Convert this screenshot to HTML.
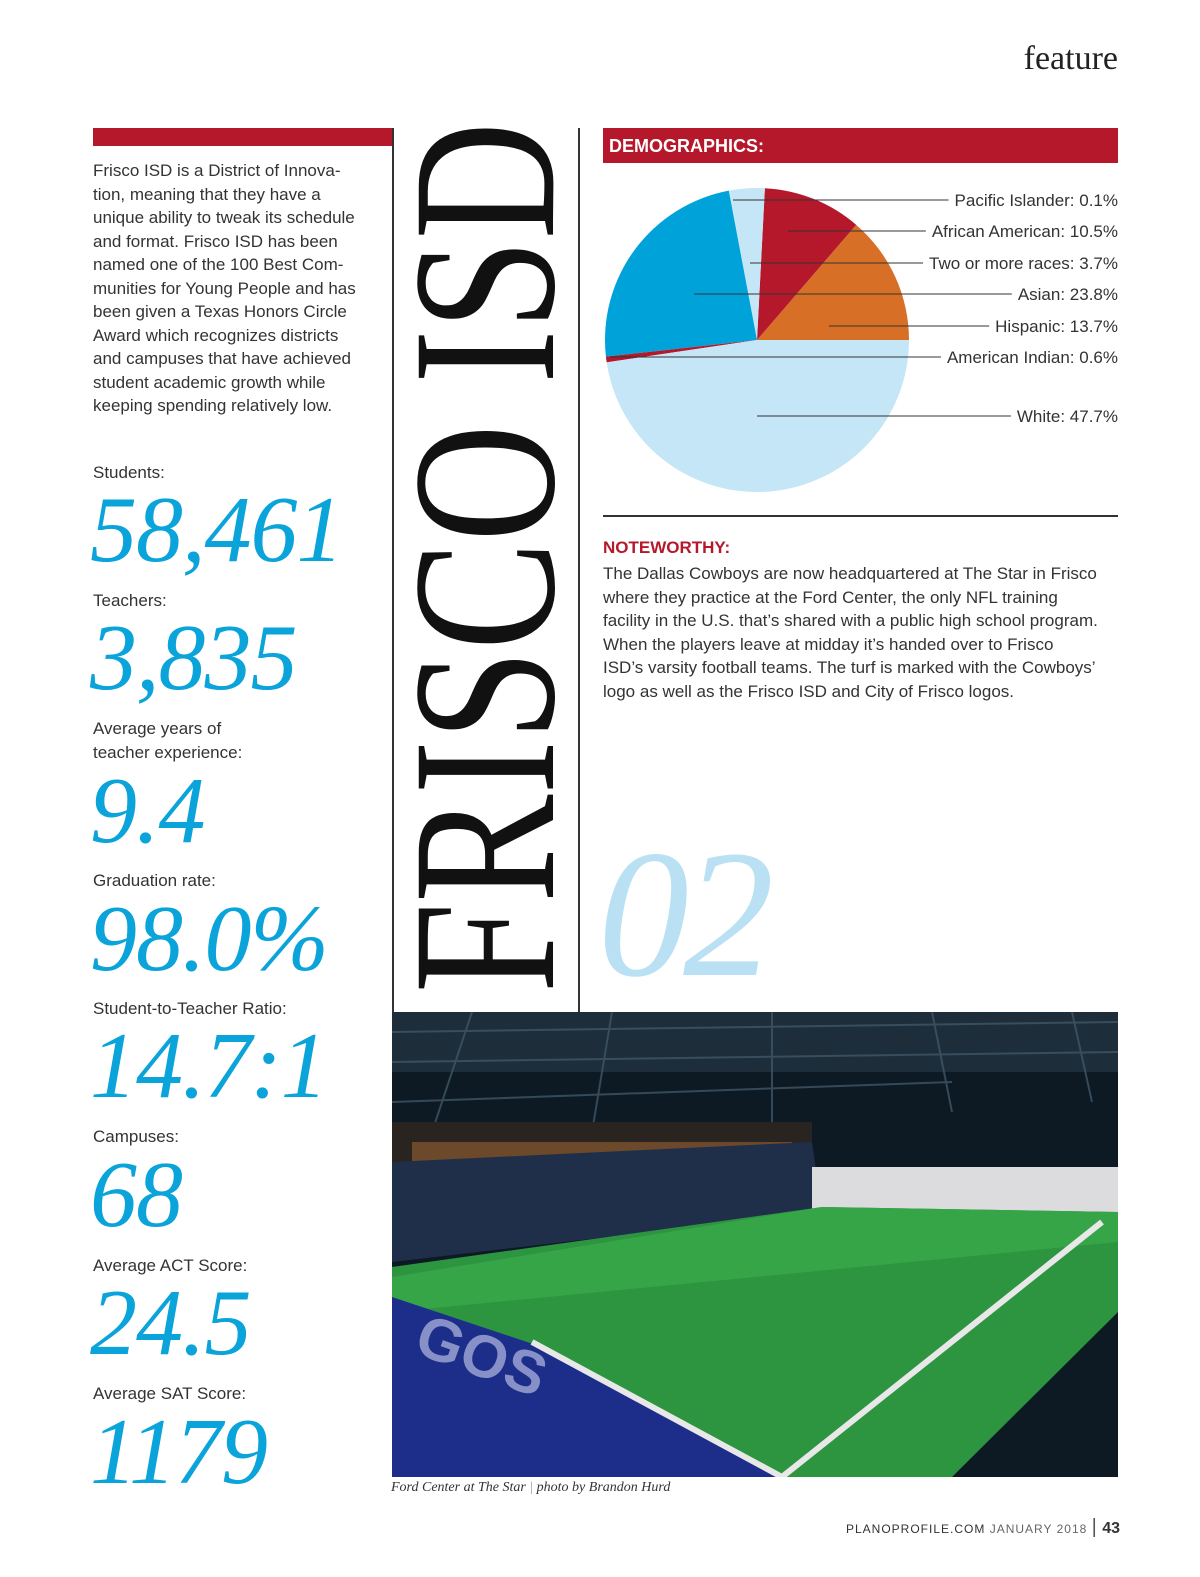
<!DOCTYPE html>
<html><head><meta charset="utf-8">
<style>
html,body{margin:0;padding:0;width:1200px;height:1577px;overflow:hidden;background:#fff;}
#page{position:relative;width:1200px;height:1577px;overflow:hidden;background:#fff;font-family:"Liberation Sans",sans-serif;}
.abs{position:absolute;}
.lbl{position:absolute;left:93px;font-size:17px;color:#333;line-height:24px;}
.num{position:absolute;left:90px;font-family:"Liberation Serif",serif;font-style:italic;font-size:94px;color:#0aa3da;line-height:1;letter-spacing:-1px;}
.para{font-size:17px;color:#333;line-height:23.5px;}
</style></head><body>
<div id="page">
  <div class="abs" style="left:1000px;top:40px;width:118px;text-align:right;font-family:'Liberation Serif',serif;font-size:34px;color:#222;">feature</div>

  <div class="abs" style="left:93px;top:128px;width:299px;height:18px;background:#b5182b;"></div>
  <div class="abs" style="left:392px;top:128px;width:1.5px;height:884px;background:#333;"></div>
  <div class="abs" style="left:578px;top:128px;width:1.5px;height:884px;background:#333;"></div>

  <div class="abs para" style="left:93px;top:159px;width:290px;">Frisco ISD is a District of Innova-<br>tion, meaning that they have a<br>unique ability to tweak its schedule<br>and format. Frisco ISD has been<br>named one of the 100 Best Com-<br>munities for Young People and has<br>been given a Texas Honors Circle<br>Award which recognizes districts<br>and campuses that have achieved<br>student academic growth while<br>keeping spending relatively low.</div>

  <div class="lbl" style="top:461px;">Students:</div>
  <div class="num" style="top:483px;">58,461</div>
  <div class="lbl" style="top:589px;">Teachers:</div>
  <div class="num" style="top:611px;">3,835</div>
  <div class="lbl" style="top:717px;">Average years of<br>teacher experience:</div>
  <div class="num" style="top:764px;">9.4</div>
  <div class="lbl" style="top:869px;">Graduation rate:</div>
  <div class="num" style="top:892px;">98.0%</div>
  <div class="lbl" style="top:997px;">Student-to-Teacher Ratio:</div>
  <div class="num" style="top:1019px;">14.7:1</div>
  <div class="lbl" style="top:1125px;">Campuses:</div>
  <div class="num" style="top:1148px;">68</div>
  <div class="lbl" style="top:1254px;">Average ACT Score:</div>
  <div class="num" style="top:1276px;">24.5</div>
  <div class="lbl" style="top:1382px;">Average SAT Score:</div>
  <div class="num" style="top:1405px;">1179</div>

  <svg class="abs" style="left:0;top:0;display:block" width="1200" height="1577">
    <text transform="translate(553,993) rotate(-90)" font-family="Liberation Serif,serif" font-size="205" fill="#111" textLength="871" lengthAdjust="spacingAndGlyphs">FRISCO ISD</text>
    <text x="598" y="975" font-family="Liberation Serif,serif" font-style="italic" font-size="182" fill="#b9e1f3" letter-spacing="-6">02</text>
  </svg>

  <div class="abs" style="left:603px;top:128px;width:515px;height:35px;background:#b5182b;color:#fff;font-weight:bold;font-size:18px;line-height:36px;padding-left:6px;box-sizing:border-box;">DEMOGRAPHICS:</div>

  <svg id="pie" class="abs" style="left:0;top:0;display:block" width="1200" height="520"></svg>

  <div class="abs" style="left:603px;top:515px;width:515px;height:1.5px;background:#333;"></div>
  <div class="abs" style="left:603px;top:538px;font-size:17px;font-weight:bold;color:#b5182b;">NOTEWORTHY:</div>
  <div class="abs para" style="left:603px;top:562px;width:520px;">The Dallas Cowboys are now headquartered at The Star in Frisco<br>where they practice at the Ford Center, the only NFL training<br>facility in the U.S. that’s shared with a public high school program.<br>When the players leave at midday it’s handed over to Frisco<br>ISD’s varsity football teams. The turf is marked with the Cowboys’<br>logo as well as the Frisco ISD and City of Frisco logos.</div>

  <svg class="abs" style="left:392px;top:1012px;display:block" width="726" height="465">
    <rect width="726" height="465" fill="#0d1a24"/>
    <rect y="0" width="726" height="60" fill="#1d2e3a"/>
    <g stroke="#3f5566" stroke-width="2" opacity="0.8">
      <line x1="0" y1="20" x2="726" y2="10"/><line x1="0" y1="50" x2="726" y2="40"/><line x1="0" y1="90" x2="560" y2="70"/>
      <line x1="80" y1="0" x2="40" y2="120"/><line x1="220" y1="0" x2="200" y2="120"/><line x1="380" y1="0" x2="380" y2="110"/><line x1="540" y1="0" x2="560" y2="100"/><line x1="680" y1="0" x2="700" y2="90"/>
    </g>
    <rect x="0" y="110" width="420" height="60" fill="#2a2420"/>
    <rect x="20" y="130" width="380" height="20" fill="#8a5a30" opacity="0.7"/>
    <polygon points="0,150 420,130 430,200 0,250" fill="#1f2f4a"/>
    <rect x="420" y="155" width="306" height="55" fill="#dcdcde"/>
    <polygon points="0,255 430,195 726,200 726,300 560,465 0,465" fill="#2d9440"/>
    <polygon points="430,195 726,200 726,230 0,300 0,265" fill="#35a548"/>
    <polygon points="0,285 150,335 390,465 0,465" fill="#1d2d8a"/>
    <line x1="140" y1="330" x2="390" y2="465" stroke="#e8e8e8" stroke-width="6"/>
    <line x1="390" y1="465" x2="710" y2="210" stroke="#e8e8e8" stroke-width="6"/>
    <text x="20" y="340" transform="rotate(20 20 340)" font-size="60" font-weight="bold" fill="#cfd4f0" opacity="0.6">GOS</text>
  </svg>
  <div class="abs" style="left:391px;top:1480px;font-family:'Liberation Serif',serif;font-style:italic;font-size:14px;color:#333;">Ford Center at The Star <span style="color:#999">|</span> photo by Brandon Hurd</div>
  <div class="abs" style="left:800px;top:1516px;width:320px;text-align:right;font-size:12px;color:#333;letter-spacing:1px;">PLANOPROFILE.COM <span style="color:#666">JANUARY 2018</span> <span style="font-size:20px;color:#555;">|</span> <b style="font-size:16px;letter-spacing:0">43</b></div>
</div>
<script>
const categories = ["Hispanic","African American","Two or more races","Pacific Islander","Asian","American Indian","White"];
const values = [13.7,10.5,3.7,0.1,23.8,0.6,47.7];
const colors = ["#d86f27","#b5182b","#c5e6f6","#c5e6f6","#00a3d9","#b5182b","#c5e6f6"];
const labelOrder = ["Pacific Islander","African American","Two or more races","Asian","Hispanic","American Indian","White"];
const labelY = [200,231,263,294,326,357,416];
const leaderStartX = [733,788,750,694,829,610,757];

const svg = document.getElementById('pie');
const NS = 'http://www.w3.org/2000/svg';
const cx = 757, cy = 340, r = 152;
const total = values.reduce((a,b)=>a+b,0);
function pt(a){ return [cx + r*Math.cos(a), cy - r*Math.sin(a)]; }
let acc = 0;
values.forEach((v,i)=>{
  const a0 = acc/total*2*Math.PI; acc += v; const a1 = acc/total*2*Math.PI;
  const p0 = pt(a0), p1 = pt(a1);
  const large = (a1-a0) > Math.PI ? 1 : 0;
  const path = document.createElementNS(NS,'path');
  path.setAttribute('d', `M${cx},${cy} L${p0[0]},${p0[1]} A${r},${r} 0 ${large} 0 ${p1[0]},${p1[1]} Z`);
  path.setAttribute('fill', colors[i]);
  
  
  svg.appendChild(path);
});
labelOrder.forEach((name,i)=>{
  const idx = categories.indexOf(name);
  const t = document.createElementNS(NS,'text');
  t.setAttribute('x', 1118); t.setAttribute('y', labelY[i]+6);
  t.setAttribute('text-anchor','end');
  t.setAttribute('font-family','Liberation Sans, sans-serif');
  t.setAttribute('font-size','17'); t.setAttribute('fill','#333');
  t.textContent = name + ': ' + values[idx].toFixed(1) + '%';
  
  
  svg.appendChild(t);
  const w = t.getComputedTextLength();
  const l = document.createElementNS(NS,'line');
  l.setAttribute('x1', leaderStartX[i]); l.setAttribute('y1', labelY[i]);
  l.setAttribute('x2', 1118 - w - 6); l.setAttribute('y2', labelY[i]);
  l.setAttribute('stroke','#333'); l.setAttribute('stroke-width','1');
  
  
  svg.appendChild(l);
});
</script>
</body></html>
